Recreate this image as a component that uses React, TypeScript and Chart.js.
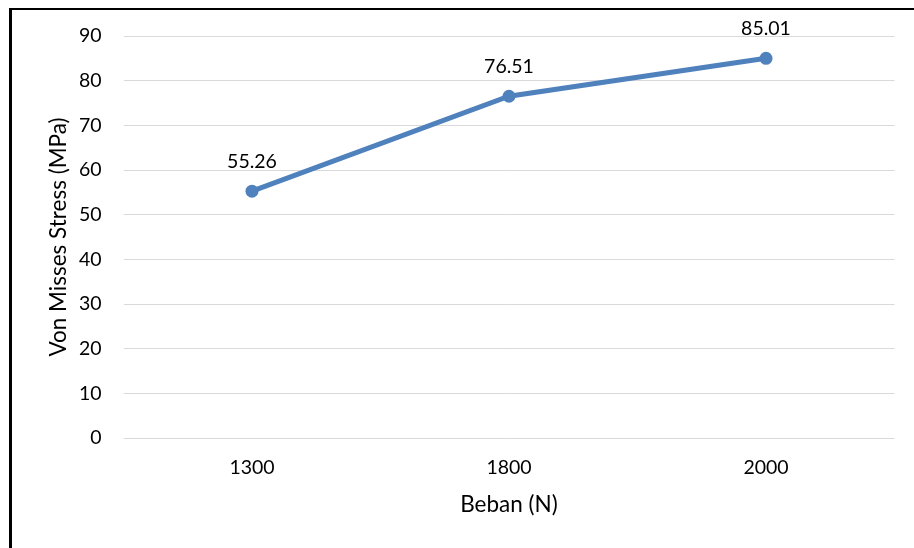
import React, { useEffect, useRef } from "react";
import { Chart, registerables } from "chart.js";

Chart.register(...registerables);

const categories = ["1300", "1800", "2000"];
const stressValues = [55.26, 76.51, 85.01];
const valueLabels = ["55.26", "76.51", "85.01"];
const yMin = 0;
const yMax = 90;
const yStep = 10;
const xTitle = "Beban (N)";
const yTitle = "Von Misses Stress (MPa)";

const FONT = "Lato";
const FS = 19.5;
const TFS = 22.5;

const labelPlugin = {
  id: "valueLabels",
  afterDatasetsDraw(chart: any) {
    const { ctx } = chart;
    const meta = chart.getDatasetMeta(0);
    ctx.save();
    ctx.font = `${FS}px ${FONT}`;
    ctx.fillStyle = "#000000";
    ctx.textAlign = "center";
    ctx.textBaseline = "alphabetic";
    meta.data.forEach((pt: any, i: number) => {
      ctx.fillText(valueLabels[i], pt.x, pt.y - 23);
    });
    ctx.restore();
  },
};

export default function App() {
  const ref = useRef<HTMLCanvasElement | null>(null);
  useEffect(() => {
    if (!ref.current) return;
    const chart = new Chart(ref.current, {
      type: "line",
      data: {
        labels: categories,
        datasets: [
          {
            data: stressValues,
            borderColor: "#4F81BD",
            backgroundColor: "#4F81BD",
            borderWidth: 5,
            pointRadius: 6.5,
            pointBorderWidth: 0,
            pointBackgroundColor: "#4F81BD",
            tension: 0,
            fill: false,
          },
        ],
      },
      options: {
        animation: false,
        responsive: false,
        maintainAspectRatio: false,
        devicePixelRatio: 1,
        layout: { padding: { left: 0, top: 36, right: 19.5, bottom: 0 } },
        plugins: {
          legend: { display: false },
          tooltip: { enabled: false },
          title: { display: false },
        },
        scales: {
          x: {
            type: "category",
            offset: true,
            grid: { display: false, drawTicks: false },
            border: { display: false },
            ticks: {
              color: "#000000",
              font: { family: FONT, size: FS },
              padding: 18,
              maxRotation: 0,
            },
            title: {
              display: true,
              text: xTitle,
              color: "#000000",
              font: { family: FONT, size: TFS },
              padding: { top: 0, bottom: 29.5 },
            },
            afterFit(scale: any) {
              scale.height = 110;
            },
          },
          y: {
            min: yMin,
            max: yMax,
            grid: { color: "#D9D9D9", lineWidth: 1, drawTicks: false },
            border: { display: false },
            ticks: {
              stepSize: yStep,
              color: "#000000",
              font: { family: FONT, size: FS },
              padding: 22,
            },
            title: {
              display: true,
              text: yTitle,
              color: "#000000",
              font: { family: FONT, size: TFS },
              padding: { top: 45.5, bottom: 0 },
            },
            afterFit(scale: any) {
              scale.width = 123.5;
            },
          },
        },
      },
      plugins: [labelPlugin],
    });
    return () => chart.destroy();
  }, []);

  return (
    <div
      style={{
        position: "fixed",
        left: 0,
        top: 0,
        width: 914,
        height: 548,
        overflow: "hidden",
        background: "#ffffff",
      }}
    >
      <canvas
        ref={ref}
        width={914}
        height={548}
        style={{ position: "absolute", left: 0, top: 0, width: 914, height: 548 }}
      />
      <div
        style={{
          position: "absolute",
          left: 9,
          top: 8,
          width: 960,
          height: 600,
          borderTop: "2px solid #000000",
          borderLeft: "3px solid #000000",
          pointerEvents: "none",
        }}
      />
    </div>
  );
}
